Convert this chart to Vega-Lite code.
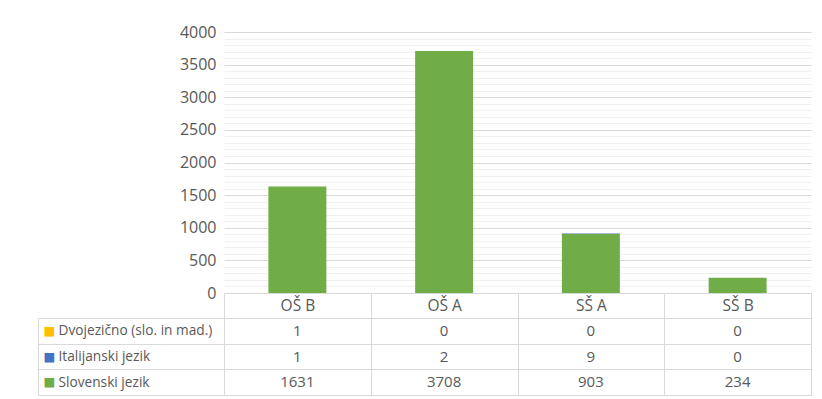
{
  "$schema": "https://vega.github.io/schema/vega-lite/v6.json",
  "background": "white",
  "padding": {"left": 37, "top": 24, "right": 12, "bottom": 4},
  "datasets": {
    "counts": [
      {"kategorija": "OŠ B", "jezik": "Dvojezično (slo. in mad.)", "stevilo": 1},
      {"kategorija": "OŠ A", "jezik": "Dvojezično (slo. in mad.)", "stevilo": 0},
      {"kategorija": "SŠ A", "jezik": "Dvojezično (slo. in mad.)", "stevilo": 0},
      {"kategorija": "SŠ B", "jezik": "Dvojezično (slo. in mad.)", "stevilo": 0},
      {"kategorija": "OŠ B", "jezik": "Italijanski jezik", "stevilo": 1},
      {"kategorija": "OŠ A", "jezik": "Italijanski jezik", "stevilo": 2},
      {"kategorija": "SŠ A", "jezik": "Italijanski jezik", "stevilo": 9},
      {"kategorija": "SŠ B", "jezik": "Italijanski jezik", "stevilo": 0},
      {"kategorija": "OŠ B", "jezik": "Slovenski jezik", "stevilo": 1631},
      {"kategorija": "OŠ A", "jezik": "Slovenski jezik", "stevilo": 3708},
      {"kategorija": "SŠ A", "jezik": "Slovenski jezik", "stevilo": 903},
      {"kategorija": "SŠ B", "jezik": "Slovenski jezik", "stevilo": 234}
    ]
  },
  "config": {
    "font": "Open Sans",
    "axis": {"labelColor": "#595959", "labelFont": "Open Sans", "title": null}
  },
  "vconcat": [
    {
      "width": 587,
      "height": 261,
      "view": {"stroke": null},
      "data": {"name": "counts"},
      "mark": {"type": "bar", "width": {"band": 0.395}},
      "encoding": {
        "x": {
          "field": "kategorija",
          "type": "nominal",
          "sort": ["OŠ B", "OŠ A", "SŠ A", "SŠ B"],
          "scale": {"paddingInner": 0, "paddingOuter": 0},
          "axis": {
            "labelAngle": 0,
            "labelFontSize": 15.5,
            "labelBaseline": "middle",
            "labelPadding": -12.5,
            "tickBand": "extent",
            "tickSize": 25,
            "tickColor": "#d9d9d9",
            "domainColor": "#d9d9d9",
            "grid": false
          }
        },
        "y": {
          "field": "stevilo",
          "type": "quantitative",
          "stack": "zero",
          "scale": {"domain": [0, 4000], "nice": false},
          "axis": {
            "tickCount": 40,
            "format": "d",
            "labelExpr": "datum.value % 500 === 0 ? datum.label : ''",
            "labelOverlap": false,
            "labelFlush": false,
            "labelFontSize": 16,
            "labelPadding": 8,
            "ticks": false,
            "domain": false,
            "grid": true,
            "gridColor": {
              "condition": {"test": "datum.value % 500 === 0", "value": "#d9d9d9"},
              "value": "#f0f0f0"
            }
          }
        },
        "color": {
          "field": "jezik",
          "type": "nominal",
          "scale": {
            "domain": ["Slovenski jezik", "Italijanski jezik", "Dvojezično (slo. in mad.)"],
            "range": ["#70ad47", "#4472c4", "#ffc000"]
          },
          "legend": null
        },
        "order": {"field": "jezik", "sort": "descending"}
      }
    },
    {
      "width": 587,
      "height": 77,
      "view": {"stroke": "#d9d9d9"},
      "data": {"name": "counts"},
      "layer": [
        {
          "mark": {"type": "text", "fontSize": 15, "color": "#595959"},
          "encoding": {
            "x": {
              "field": "kategorija",
              "type": "nominal",
              "sort": ["OŠ B", "OŠ A", "SŠ A", "SŠ B"],
              "scale": {"type": "band", "paddingInner": 0, "paddingOuter": 0},
              "axis": {
                "grid": true,
                "gridColor": "#d9d9d9",
                "tickBand": "extent",
                "labels": false,
                "ticks": false,
                "domain": false
              }
            },
            "y": {
              "field": "jezik",
              "type": "nominal",
              "sort": ["Dvojezično (slo. in mad.)", "Italijanski jezik", "Slovenski jezik"],
              "scale": {"type": "band", "paddingInner": 0, "paddingOuter": 0},
              "axis": {
                "orient": "left",
                "grid": true,
                "gridColor": "#d9d9d9",
                "tickBand": "extent",
                "tickSize": 186,
                "tickColor": "#d9d9d9",
                "domain": false,
                "labelAlign": "left",
                "labelPadding": -20,
                "labelFontSize": 13.7
              }
            },
            "text": {"field": "stevilo", "type": "quantitative"}
          }
        },
        {
          "mark": {"type": "text", "opacity": 0},
          "encoding": {
            "y": {
              "field": "jezik",
              "type": "nominal",
              "sort": ["Dvojezično (slo. in mad.)", "Italijanski jezik", "Slovenski jezik"],
              "axis": {
                "orient": "left",
                "offset": 186,
                "grid": false,
                "ticks": false,
                "domain": true,
                "domainColor": "#d9d9d9",
                "labelExpr": "'■'",
                "labelFont": "DejaVu Sans",
                "labelFontSize": 12.5,
                "labelAlign": "left",
                "labelPadding": -5,
                "labelColor": {
                  "condition": [
                    {"test": "datum.value === 'Slovenski jezik'", "value": "#70ad47"},
                    {"test": "datum.value === 'Italijanski jezik'", "value": "#4472c4"}
                  ],
                  "value": "#ffc000"
                }
              }
            },
            "text": {"field": "stevilo", "type": "quantitative"}
          }
        }
      ],
      "resolve": {"axis": {"y": "independent"}}
    }
  ],
  "spacing": 25,
  "bounds": "flush"
}
